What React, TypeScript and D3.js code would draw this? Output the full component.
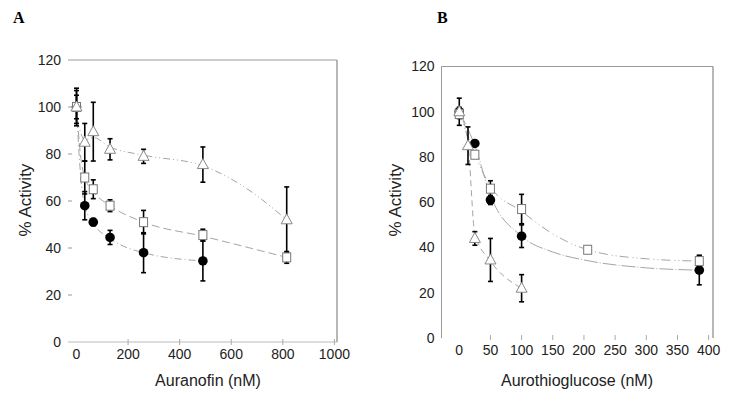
import * as d3 from 'd3'
import * as React from 'react'

// Panel A: Auranofin (nM)
const aDose = [0, 32, 65, 130, 260, 490, 815]
const aCircle = [100, 58, 51, 44.5, 38, 34.5]
const aCircleErr = [8, 6, 1.5, 3, 8.5, 8.5]
const aSquare = [100, 70, 65, 58, 51, 45.5, 36]
const aSquareErr = [5, 7, 4, 2.5, 5, 2.5, 2.5]
const aTriangle = [100, 85, 89.5, 82, 79, 75.5, 52]
const aTriangleErr = [7, 8, 12.5, 4.5, 3, 7.5, 14]

// fitted curves, [dose, %]
const aCircleFit: [number, number][] = [[0, 100], [10, 80], [20, 66], [32, 58], [65, 50.5], [130, 44], [260, 38], [490, 34.5]]
const aSquareFit: [number, number][] = [[0, 100], [15, 80], [32, 70], [65, 64], [130, 58], [260, 51], [490, 45], [815, 36]]
const aTriangleFit: [number, number][] = [[0, 96], [32, 86], [65, 87], [130, 83], [260, 79.5], [490, 75], [650, 66], [815, 52]]

// Panel B: Aurothioglucose (nM)
const bCircleDose = [0, 25, 50, 100, 385]
const bCircle = [100, 86, 61, 45, 30]
const bCircleErr = [6, 1, 2, 5, 6.5]
const bSquareDose = [0, 25, 50, 100, 206, 385]
const bSquare = [99, 81, 66, 57, 39, 34]
const bSquareErr = [2, 1, 3.5, 6.5, 1.5, 2.5]
const bTriangleDose = [0, 14, 25, 50, 100]
const bTriangle = [100, 85, 44, 34.5, 22]
const bTriangleErr = [2, 8.3, 3, 9.5, 6]

const bCircleFit: [number, number][] = [[0, 100], [25, 85], [50, 63], [100, 45], [150, 38], [200, 34.5], [300, 31], [385, 30]]
const bSquareFit: [number, number][] = [[0, 100], [25, 81], [50, 67], [100, 56], [150, 46], [206, 39], [300, 35], [385, 34]]
const bTriangleFit: [number, number][] = [[0, 100], [14, 86], [25, 46], [50, 34], [100, 22]]

const yTicks = [0, 20, 40, 60, 80, 100, 120]
const aXTicks = [0, 200, 400, 600, 800, 1000]
const bXTicks = [0, 50, 100, 150, 200, 250, 300, 350, 400]

type Series = {
  kind: 'circle' | 'square' | 'triangle'
  dose: number[]
  values: number[]
  err: number[]
  fit: [number, number][]
  dash: string
}

type PanelProps = {
  letter: string
  letterX: number
  xTitle: string
  xDomain: [number, number]
  xRange: [number, number]
  yRange: [number, number]
  xTicks: number[]
  series: Series[]
  leftLine: boolean
  bottomLine: boolean
  titleX: number
  yTitleX: number
}

const font = 'Liberation Sans, Arial, sans-serif'

function Marker({ kind, x, y }: { kind: string, x: number, y: number }) {
  if (kind === 'circle') return <circle cx={x} cy={y} r={4.8} fill="#000" />
  if (kind === 'square') return <rect x={x - 4} y={y - 4.5} width={8} height={9} fill="#fff" stroke="#777" strokeWidth={1} />
  const tri = `M${x},${y - 6} L${x + 5.5},${y + 4} L${x - 5.5},${y + 4} Z`
  return <path d={tri} fill="#fff" stroke="#888" strokeWidth={1} />
}

function Panel(p: PanelProps) {
  const x = d3.scaleLinear().domain(p.xDomain).range(p.xRange)
  const y = d3.scaleLinear().domain([0, 120]).range(p.yRange)
  const line = d3.line<[number, number]>()
    .x(d => x(d[0]))
    .y(d => y(d[1]))
    .curve(d3.curveMonotoneX)
  const [x0, x1] = p.xRange
  const [yb, yt] = p.yRange
  // markers: circles underneath, open symbols on top
  const order = ['circle', 'square', 'triangle']
  const markerSeries = [...p.series].sort((a, b) => order.indexOf(a.kind) - order.indexOf(b.kind))
  return (
    <g>
      <text x={p.letterX} y={23} fontFamily="Liberation Serif, Times New Roman, serif" fontWeight="bold" fontSize={16}>{p.letter}</text>
      {/* frame */}
      <line x1={x0} x2={x1} y1={yt} y2={yt} stroke="#999" strokeWidth={1.2} />
      <line x1={x1} x2={x1} y1={yt} y2={yb} stroke="#888" strokeWidth={1.2} />
      {p.leftLine && <line x1={x0} x2={x0} y1={yt} y2={yb} stroke="#999" strokeWidth={1} />}
      {p.bottomLine && <line x1={x0} x2={x1} y1={yb} y2={yb} stroke="#bbb" strokeWidth={1} />}
      {/* y axis */}
      {yTicks.map(t => (
        <g key={'y' + t}>
          {!p.leftLine && t > 0 && t < 120 && <line x1={x0} x2={x0 + 4} y1={y(t)} y2={y(t)} stroke="#999" />}
          <text x={x0 - 7} y={y(t)} dy="0.35em" textAnchor="end" fontFamily={font} fontSize={14} fill="#222">{t}</text>
        </g>
      ))}
      {/* x axis */}
      {p.xTicks.map(t => (
        <g key={'x' + t}>
          {t > 0 && <line x1={x(t)} x2={x(t)} y1={yb - 3} y2={yb + (p.bottomLine ? 3 : 2)} stroke="#aaa" />}
          <text x={x(t)} y={yb + 17} textAnchor="middle" fontFamily={font} fontSize={14} fill="#222">{t}</text>
        </g>
      ))}
      <text x={p.titleX} y={386} textAnchor="middle" fontFamily={font} fontSize={16} fill="#222">{p.xTitle}</text>
      <text transform={`translate(${p.yTitleX},200) rotate(-90)`} textAnchor="middle" fontFamily={font} fontSize={17} fill="#222">% Activity</text>
      {/* fitted curves */}
      {p.series.map(s => (
        <path key={'f' + s.kind} d={line(s.fit) || ''} fill="none" stroke="#a5a5a5" strokeWidth={1} strokeDasharray={s.dash} />
      ))}
      {/* error bars */}
      {p.series.map(s => s.values.map((v, i) => {
        const cx = x(s.dose[i])
        const hi = y(v + s.err[i])
        const lo = y(v - s.err[i])
        return (
          <g key={'e' + s.kind + i} stroke="#000" strokeWidth={1.6}>
            <line x1={cx} x2={cx} y1={hi} y2={lo} />
            <line x1={cx - 2.5} x2={cx + 2.5} y1={hi} y2={hi} />
            <line x1={cx - 2.5} x2={cx + 2.5} y1={lo} y2={lo} />
          </g>
        )
      }))}
      {/* markers */}
      {markerSeries.map(s => s.values.map((v, i) => (
        <Marker key={'m' + s.kind + i} kind={s.kind} x={x(s.dose[i])} y={y(v)} />
      )))}
    </g>
  )
}

export default function App() {
  const seriesA: Series[] = [
    { kind: 'triangle', dose: aDose, values: aTriangle, err: aTriangleErr, fit: aTriangleFit, dash: '7 3 1 3 1 3' },
    { kind: 'square', dose: aDose, values: aSquare, err: aSquareErr, fit: aSquareFit, dash: '8 4' },
    { kind: 'circle', dose: aDose, values: aCircle, err: aCircleErr, fit: aCircleFit, dash: '7 3 1 3' },
  ]
  const seriesB: Series[] = [
    { kind: 'triangle', dose: bTriangleDose, values: bTriangle, err: bTriangleErr, fit: bTriangleFit, dash: '6 4' },
    { kind: 'square', dose: bSquareDose, values: bSquare, err: bSquareErr, fit: bSquareFit, dash: '9 4 1 3 1 3' },
    { kind: 'circle', dose: bCircleDose, values: bCircle, err: bCircleErr, fit: bCircleFit, dash: '14 2 1 2' },
  ]
  return (
    <svg width={729} height={393} style={{ position: 'absolute', left: 0, top: 0, background: '#fff' }}>
      <rect width={729} height={393} fill="#fff" />
      <Panel letter="A" letterX={13} xTitle="Auranofin (nM)" xDomain={[-33, 1010]} xRange={[68, 337]} yRange={[342, 60]}
        xTicks={aXTicks} series={seriesA} leftLine={false} bottomLine={true} titleX={208} yTitleX={31} />
      <Panel letter="B" letterX={437} xTitle="Aurothioglucose (nM)" xDomain={[-28.5, 407]} xRange={[441.5, 713]} yRange={[338, 66.5]}
        xTicks={bXTicks} series={seriesB} leftLine={true} bottomLine={false} titleX={577} yTitleX={401} />
    </svg>
  )
}
